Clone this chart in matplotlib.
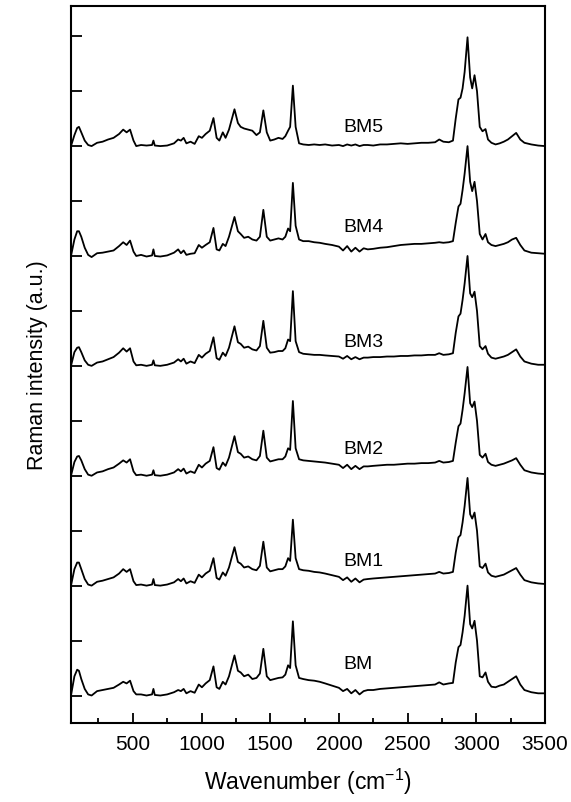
import numpy as np
import matplotlib
matplotlib.use("Agg")
import matplotlib.pyplot as plt
from matplotlib.ticker import MultipleLocator

plt.rcParams['font.family'] = ['Liberation Sans', 'DejaVu Sans']
plt.rcParams['mathtext.default'] = 'regular'

# wavenumber grid (cm-1)
wavenumber = [50, 75, 95, 108, 125, 150, 175, 200, 240, 280, 320, 360, 400, 430, 455, 480, 505, 525,
              560, 600, 640, 650, 660, 700, 750, 800, 830, 850, 870, 890, 920, 950, 980, 1003, 1030, 1060,
              1087, 1110, 1130, 1155, 1175, 1200, 1240, 1265, 1285, 1310, 1340, 1370, 1400, 1425, 1450, 1475, 1500, 1530,
              1560, 1590, 1610, 1630, 1645, 1665, 1685, 1710, 1740, 1780, 1820, 1860, 1900, 1950, 2000, 2030, 2060, 2090,
              2120, 2150, 2180, 2210, 2250, 2300, 2350, 2400, 2450, 2500, 2550, 2600, 2650, 2700, 2730, 2760, 2800, 2830,
              2850, 2870, 2885, 2900, 2915, 2936, 2955, 2970, 2987, 3005, 3025, 3045, 3067, 3085, 3110, 3140, 3170, 3200,
              3230, 3260, 3290, 3320, 3350, 3400, 3450, 3500]

# intensities (a.u.), each spectrum relative to its own baseline
bm = [0.0, 0.35, 0.47, 0.45, 0.3, 0.12, 0.02, 0.0, 0.08, 0.1, 0.12, 0.14, 0.2, 0.25, 0.22, 0.27, 0.08, 0.02,
      0.02, 0.0, 0.02, 0.12, 0.01, 0.0, 0.02, 0.06, 0.1, 0.08, 0.12, 0.04, 0.08, 0.05, 0.2, 0.15, 0.22, 0.28,
      0.53, 0.15, 0.12, 0.25, 0.2, 0.35, 0.73, 0.45, 0.42, 0.35, 0.38, 0.3, 0.32, 0.4, 0.85, 0.35, 0.28, 0.3,
      0.32, 0.33, 0.38, 0.55, 0.5, 1.35, 0.55, 0.32, 0.3, 0.28, 0.27, 0.25, 0.22, 0.18, 0.14, 0.08, 0.12, 0.04,
      0.1, 0.02, 0.08, 0.1, 0.1, 0.12, 0.13, 0.14, 0.15, 0.16, 0.17, 0.18, 0.19, 0.2, 0.24, 0.2, 0.22, 0.23,
      0.6, 0.88, 0.92, 1.15, 1.45, 2.0, 1.3, 1.22, 1.36, 1.0, 0.35, 0.33, 0.42, 0.25, 0.16, 0.15, 0.18, 0.2,
      0.25, 0.3, 0.35, 0.2, 0.1, 0.06, 0.04, 0.04]
bm1 = [0.0, 0.3, 0.42, 0.42, 0.3, 0.12, 0.02, 0.0, 0.07, 0.09, 0.12, 0.15, 0.22, 0.3, 0.25, 0.3, 0.08, 0.01,
       0.02, 0.0, 0.02, 0.12, 0.01, 0.0, 0.02, 0.06, 0.12, 0.08, 0.13, 0.04, 0.08, 0.05, 0.2, 0.15, 0.22, 0.27,
       0.5, 0.14, 0.11, 0.24, 0.18, 0.33, 0.7, 0.43, 0.4, 0.33, 0.35, 0.3, 0.28, 0.36, 0.8, 0.33, 0.26, 0.28,
       0.3, 0.3, 0.35, 0.5, 0.45, 1.2, 0.5, 0.3, 0.28, 0.27, 0.25, 0.24, 0.22, 0.19, 0.16, 0.1, 0.15, 0.07,
       0.13, 0.06, 0.11, 0.12, 0.13, 0.14, 0.15, 0.16, 0.17, 0.18, 0.19, 0.2, 0.21, 0.22, 0.25, 0.22, 0.23, 0.25,
       0.6, 0.88, 0.92, 1.15, 1.45, 1.96, 1.3, 1.22, 1.33, 1.0, 0.35, 0.32, 0.4, 0.24, 0.18, 0.16, 0.18, 0.2,
       0.24, 0.28, 0.32, 0.2, 0.1, 0.06, 0.04, 0.03]
bm2 = [0.0, 0.25, 0.35, 0.36, 0.28, 0.12, 0.02, 0.0, 0.06, 0.08, 0.12, 0.15, 0.22, 0.28, 0.24, 0.3, 0.08, 0.01,
       0.02, 0.0, 0.02, 0.1, 0.01, 0.0, 0.02, 0.06, 0.12, 0.08, 0.13, 0.04, 0.08, 0.05, 0.2, 0.15, 0.22, 0.27,
       0.52, 0.14, 0.11, 0.24, 0.18, 0.33, 0.72, 0.43, 0.4, 0.33, 0.35, 0.3, 0.28, 0.36, 0.82, 0.33, 0.26, 0.28,
       0.3, 0.3, 0.35, 0.5, 0.47, 1.36, 0.5, 0.3, 0.28, 0.27, 0.26, 0.25, 0.24, 0.22, 0.2, 0.14, 0.2, 0.12,
       0.18, 0.12, 0.17, 0.17, 0.18, 0.19, 0.2, 0.2, 0.21, 0.22, 0.22, 0.23, 0.23, 0.24, 0.27, 0.24, 0.25, 0.27,
       0.6, 0.9, 0.95, 1.2, 1.5, 1.98, 1.32, 1.25, 1.35, 1.0, 0.38, 0.33, 0.4, 0.25, 0.2, 0.18, 0.2, 0.22,
       0.25, 0.28, 0.32, 0.2, 0.1, 0.06, 0.04, 0.03]
bm3 = [0.0, 0.25, 0.33, 0.34, 0.25, 0.1, 0.02, 0.0, 0.06, 0.08, 0.12, 0.16, 0.24, 0.32, 0.26, 0.32, 0.08, 0.01,
       0.02, 0.0, 0.02, 0.1, 0.01, 0.0, 0.02, 0.06, 0.12, 0.08, 0.13, 0.04, 0.08, 0.05, 0.2, 0.15, 0.22, 0.27,
       0.52, 0.14, 0.11, 0.24, 0.18, 0.33, 0.72, 0.43, 0.4, 0.33, 0.35, 0.3, 0.28, 0.36, 0.82, 0.33, 0.24, 0.25,
       0.27, 0.27, 0.32, 0.48, 0.45, 1.36, 0.45, 0.25, 0.22, 0.21, 0.2, 0.2, 0.19, 0.18, 0.17, 0.13, 0.18, 0.12,
       0.16, 0.12, 0.15, 0.15, 0.16, 0.16, 0.17, 0.17, 0.18, 0.18, 0.19, 0.19, 0.2, 0.2, 0.23, 0.2, 0.21, 0.23,
       0.6, 0.9, 0.95, 1.2, 1.5, 2.0, 1.32, 1.25, 1.35, 1.0, 0.36, 0.3, 0.36, 0.22, 0.15, 0.13, 0.15, 0.17,
       0.2, 0.25, 0.3, 0.17, 0.08, 0.04, 0.02, 0.02]
bm4 = [0.0, 0.3, 0.45, 0.45, 0.35, 0.15, 0.02, -0.02, 0.05, 0.06, 0.08, 0.1, 0.18, 0.25, 0.2, 0.28, 0.08, 0.0,
       0.02, -0.01, 0.01, 0.12, 0.0, -0.01, 0.01, 0.06, 0.12, 0.05, 0.1, 0.02, 0.04, 0.05, 0.2, 0.15, 0.2, 0.25,
       0.51, 0.12, 0.1, 0.22, 0.18, 0.35, 0.71, 0.45, 0.4, 0.33, 0.35, 0.3, 0.28, 0.35, 0.84, 0.35, 0.28, 0.3,
       0.32, 0.3, 0.35, 0.5, 0.45, 1.33, 0.55, 0.3, 0.27, 0.27, 0.25, 0.24, 0.22, 0.2, 0.17, 0.1, 0.18, 0.08,
       0.15, 0.08, 0.14, 0.12, 0.13, 0.15, 0.16, 0.18, 0.2, 0.21, 0.22, 0.22, 0.23, 0.24, 0.25, 0.24, 0.25, 0.27,
       0.6, 0.9, 0.95, 1.2, 1.5, 2.0, 1.35, 1.18, 1.35, 1.0, 0.4, 0.3, 0.4, 0.25, 0.2, 0.18, 0.2, 0.22,
       0.25, 0.3, 0.33, 0.2, 0.1, 0.06, 0.05, 0.04]
bm5 = [0.0, 0.2, 0.33, 0.35, 0.25, 0.1, 0.02, 0.0, 0.06, 0.08, 0.12, 0.15, 0.22, 0.3, 0.25, 0.3, 0.1, 0.0,
       0.02, 0.01, 0.02, 0.1, 0.01, 0.0, 0.01, 0.05, 0.12, 0.1, 0.15, 0.05, 0.08, 0.04, 0.18, 0.15, 0.22, 0.28,
       0.51, 0.15, 0.1, 0.25, 0.15, 0.3, 0.67, 0.42, 0.35, 0.32, 0.3, 0.28, 0.2, 0.25, 0.65, 0.25, 0.1, 0.12,
       0.15, 0.13, 0.18, 0.28, 0.35, 1.1, 0.35, 0.05, 0.03, 0.02, 0.03, 0.02, 0.03, 0.01, 0.02, 0.0, 0.03, 0.01,
       0.03, 0.0, 0.02, 0.02, 0.01, 0.03, 0.03, 0.04, 0.05, 0.04, 0.05, 0.06, 0.06, 0.07, 0.12, 0.08, 0.07, 0.1,
       0.5, 0.85, 0.88, 1.05, 1.35, 1.98, 1.25, 1.05, 1.29, 1.0, 0.35, 0.27, 0.31, 0.12, 0.06, 0.03, 0.05, 0.08,
       0.12, 0.18, 0.24, 0.12, 0.06, 0.03, 0.01, 0.0]

names = ['BM', 'BM1', 'BM2', 'BM3', 'BM4', 'BM5']
spectra = [bm, bm1, bm2, bm3, bm4, bm5]
label_y = [0.58, 0.45, 0.5, 0.45, 0.53, 0.36]  # label height above each baseline

fig = plt.figure(figsize=(5.71, 8.03), dpi=100)
ax = fig.add_axes([0.1243, 0.0984, 0.8302, 0.8929])

for k in range(len(spectra)):
    offset = 2 * k
    ax.plot(wavenumber, np.array(spectra[k]) + offset, color='black', lw=1.3)
    ax.text(2030, offset + label_y[k], names[k], fontsize=14, ha='left', va='center')

ax.set_xlim(50, 3500)
ax.set_ylim(-0.5, 12.55)
ax.xaxis.set_major_locator(MultipleLocator(500))
ax.xaxis.set_minor_locator(MultipleLocator(250))
ax.yaxis.set_major_locator(MultipleLocator(1))
ax.set_yticklabels([])
ax.tick_params(axis='x', which='major', direction='in', length=7, width=1.3, labelsize=15, pad=8)
ax.tick_params(axis='x', which='minor', direction='in', length=3.5, width=1.3)
ax.tick_params(axis='y', which='major', direction='in', length=8, width=1.3)
for s in ax.spines.values():
    s.set_linewidth(1.5)

ax.set_xlabel("Wavenumber (cm$^{-1}$)", fontsize=16.5, labelpad=9)
ax.set_ylabel("Raman intensity (a.u.)", fontsize=15.5, labelpad=13)

fig.savefig("out.png", dpi=100)
